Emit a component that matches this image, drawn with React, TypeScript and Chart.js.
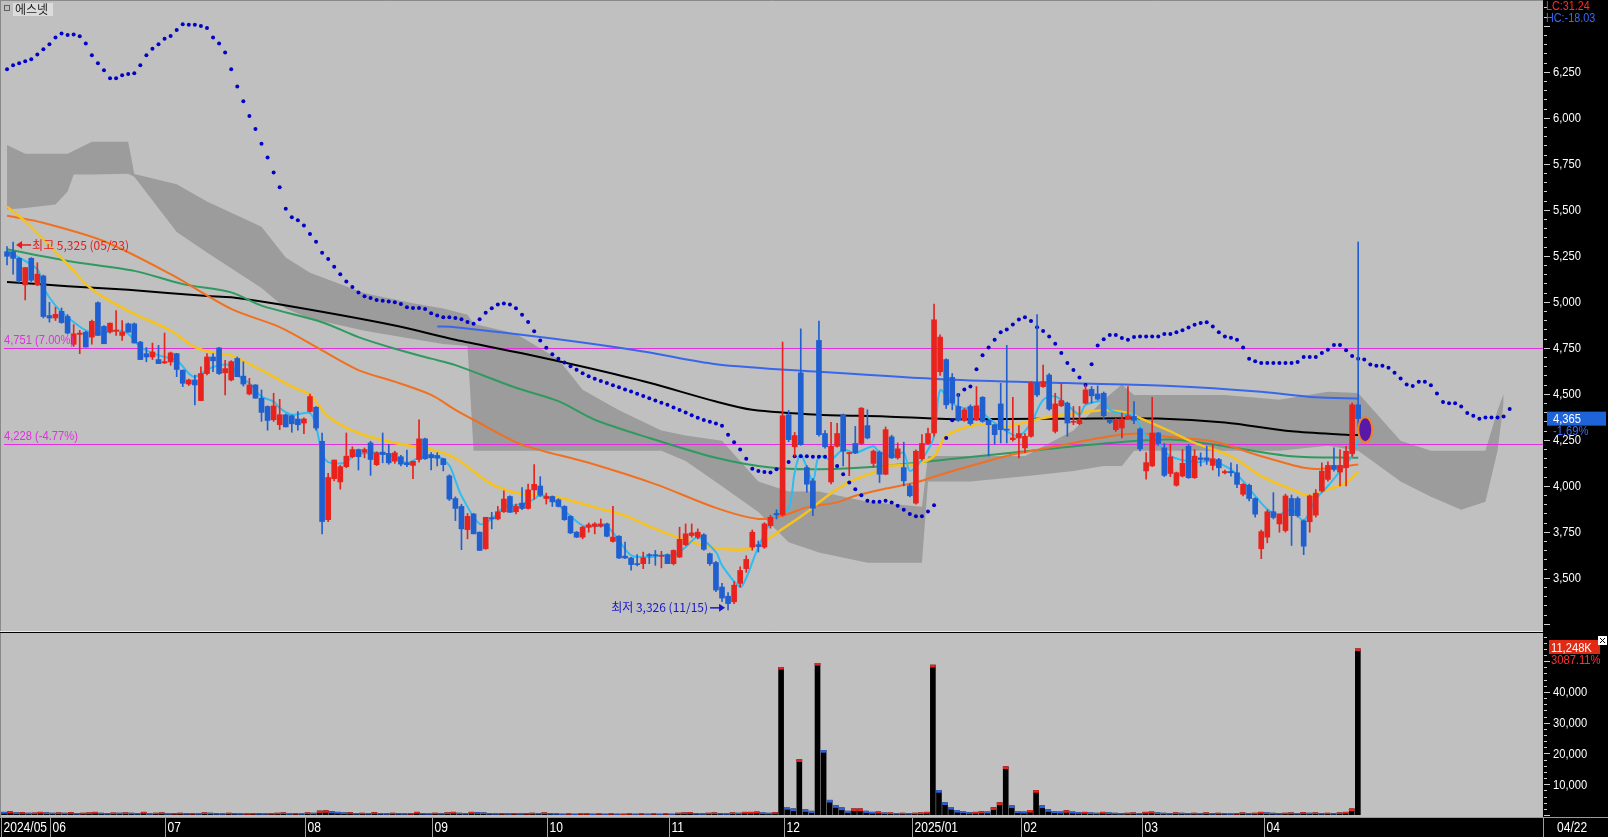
import React, { useEffect, useRef } from "react";
import { Chart, registerables } from "chart.js";

Chart.register(...registerables);

const SLOTS = 254;

const opens = [5272,5272,5236,5092,5236,5092,5140,4925,4912,4948,4920,4769,4823,4835,4808,4995,4866,4836,4840,4817,4880,4880,4781,4718,4700,4686,4668,4673,4718,4628,4553,4575,4463,4610,4700,4749,4614,4575,4692,4596,4499,4548,4476,4431,4359,4332,4386,4381,4363,4341,4404,4427,4242,3816,4039,4021,4104,4158,4197,4183,4233,4115,4183,4176,4134,4158,4125,4111,4143,4255,4170,4165,4147,4054,3931,3888,3762,3847,3748,3658,3827,3820,3859,3942,3859,3906,3877,3978,3999,3931,3942,3924,3888,3834,3748,3721,3775,3780,3781,3793,3698,3726,3618,3608,3575,3577,3626,3626,3617,3626,3577,3613,3680,3730,3721,3734,3631,3583,3450,3400,3370,3470,3550,3667,3680,3667,3784,3850,3842,4386,4212,4614,4099,4027,4790,4284,4021,4215,4386,4175,4230,4230,4327,4122,4183,4063,4266,4152,4099,4000,3906,4147,4230,4287,4620,4686,4589,4431,4356,4431,4359,4481,4356,4332,4445,4308,4251,4260,4206,4269,4560,4539,4602,4296,4435,4449,4345,4338,4449,4524,4499,4503,4356,4305,4314,4363,4377,4309,4081,4108,4287,4206,4067,4003,4053,4215,4044,4152,4152,4111,4143,4071,4078,4071,3954,4003,3931,3658,3721,3859,3793,3757,3931,3931,3810,3805,3841,3972,4035,4111,4075,4098,4175,4440];
const highs = [5300,5325,5240,5186,5240,5212,5145,4997,4970,4966,4930,4876,4845,4840,4901,5000,4870,4884,4952,4898,4885,4885,4785,4751,4776,4763,4830,4727,4720,4630,4580,4602,4646,4718,4718,4752,4682,4680,4700,4674,4584,4550,4521,4435,4503,4470,4390,4385,4404,4370,4499,4430,4287,4068,4140,4111,4287,4212,4200,4206,4242,4185,4287,4224,4188,4165,4194,4135,4359,4260,4180,4180,4150,4060,3940,3900,3850,3850,3750,3829,3856,3888,3973,3945,3901,3990,4009,4116,4050,3960,3945,3930,3892,3838,3752,3780,3798,3800,3820,3798,3888,3730,3694,3612,3626,3640,3632,3649,3644,3630,3652,3775,3793,3793,3766,3740,3635,3590,3470,3420,3480,3560,3620,3760,3700,3800,3840,3870,4781,4410,4290,4853,4110,4040,4895,4300,4345,4340,4390,4181,4323,4425,4413,4195,4190,4320,4275,4233,4237,4010,4195,4278,4314,4988,4820,4690,4610,4500,4420,4440,4539,4485,4360,4335,4557,4763,4481,4327,4284,4565,4930,4656,4610,4503,4557,4455,4431,4431,4548,4539,4543,4510,4360,4365,4395,4539,4458,4315,4180,4481,4290,4230,4225,4075,4197,4225,4197,4179,4215,4224,4150,4085,4125,4116,4012,4010,3935,3760,3870,3963,3846,3955,3950,3940,3815,3950,3980,4125,4130,4206,4197,4215,4450,5325];
const lows = [5200,5150,5105,5010,5110,5087,4912,4889,4898,4883,4825,4758,4718,4754,4769,4817,4772,4830,4817,4790,4835,4776,4686,4674,4686,4664,4664,4655,4593,4539,4545,4440,4463,4602,4620,4605,4494,4570,4593,4542,4494,4476,4350,4302,4350,4305,4320,4291,4302,4284,4400,4302,3739,3805,4027,3982,4098,4152,4086,4152,4057,4110,4125,4117,4122,4108,4104,4039,4129,4143,4086,4108,4081,3920,3811,3653,3712,3739,3649,3655,3766,3815,3855,3856,3847,3870,3873,3928,3942,3901,3888,3885,3812,3740,3718,3712,3748,3739,3775,3722,3694,3604,3604,3541,3565,3550,3577,3568,3554,3577,3570,3610,3675,3720,3712,3650,3568,3425,3370,3326,3360,3450,3530,3650,3640,3660,3770,3820,3835,4240,4160,4220,3965,3838,4270,4205,4010,4210,4108,4055,4175,4225,4255,4100,4018,4060,4148,4145,4000,3940,3900,4140,4225,4270,4600,4420,4413,4350,4350,4330,4355,4345,4162,4225,4233,4233,4242,4152,4180,4265,4485,4535,4410,4287,4430,4269,4332,4332,4445,4450,4465,4360,4338,4296,4260,4360,4338,4189,4036,4105,4220,4050,4050,3998,4048,4040,4040,4107,4116,4086,4053,4065,4053,3990,3945,3918,3830,3604,3690,3820,3748,3748,3676,3830,3626,3748,3830,3965,4025,4080,4000,4000,4160,4320];
const closes = [5247,5236,5114,5186,5117,5150,4920,4912,4932,4887,4830,4826,4830,4754,4894,4817,4772,4884,4846,4835,4835,4776,4686,4700,4727,4664,4675,4722,4632,4557,4575,4548,4610,4700,4679,4610,4637,4675,4593,4553,4548,4476,4399,4355,4434,4386,4320,4337,4332,4363,4485,4314,3806,4045,4140,4104,4161,4197,4158,4197,4143,4179,4170,4125,4179,4118,4115,4133,4255,4147,4152,4150,4115,3928,3877,3766,3834,3739,3649,3829,3820,3859,3928,3856,3888,3877,3978,4008,3949,3942,3913,3888,3816,3744,3721,3775,3788,3793,3793,3726,3721,3608,3608,3572,3572,3608,3620,3620,3622,3577,3649,3709,3739,3744,3748,3655,3577,3434,3390,3360,3460,3540,3600,3748,3670,3793,3829,3842,4381,4251,4273,4224,4009,3878,4278,4212,4215,4284,4188,4181,4179,4422,4260,4188,4063,4305,4152,4201,4027,3946,4188,4230,4284,4902,4808,4440,4449,4356,4413,4338,4435,4350,4332,4278,4305,4302,4260,4284,4269,4560,4494,4566,4417,4445,4463,4341,4350,4359,4521,4489,4471,4381,4345,4356,4363,4381,4356,4201,4126,4287,4230,4057,4157,4071,4122,4044,4161,4143,4139,4147,4098,4078,4071,4008,4008,3931,3846,3751,3859,3828,3846,3945,3838,3838,3672,3945,3960,4080,4111,4089,4111,4188,4440,4365];

const volumes = [900,1100,700,800,600,650,900,700,600,700,600,800,500,600,700,900,600,500,650,600,700,600,500,900,400,600,700,400,500,600,450,500,400,700,600,450,400,600,500,400,400,500,450,400,500,600,700,400,500,400,700,600,1300,1400,1100,900,700,800,500,600,500,800,500,400,600,500,400,500,900,500,400,600,500,700,900,600,500,900,800,700,500,400,500,400,500,400,500,600,500,700,500,400,300,400,300,400,400,300,400,300,400,300,300,400,300,400,300,400,300,400,300,600,700,800,500,400,600,700,500,400,700,600,900,900,1000,700,600,800,48000,2500,2000,18000,1800,1240,49300,21000,4800,3090,2340,1240,2010,2010,1240,912,1020,690,700,500,600,500,600,700,900,48700,8000,4000,2500,1500,1200,800,900,1100,1000,2400,4000,15700,3000,1200,1000,1500,8000,3000,1800,1200,1000,1400,1000,800,900,700,600,900,700,600,500,600,700,500,900,1000,700,600,500,700,600,500,600,500,700,500,600,500,400,500,700,500,600,900,700,600,500,600,700,500,800,600,700,500,600,500,700,900,2000,54000];

const monthTicks: [number, string][] = [[0,"2024/05"],[8,"06"],[27,"07"],[50,"08"],[71,"09"],[90,"10"],[110,"11"],[129,"12"],[150,"2025/01"],[168,"02"],[188,"03"],[208,"04"]];
const lastDateLabel = "04/22";
const priceTickLabels = [3500, 3750, 4000, 4250, 4500, 4750, 5000, 5250, 5500, 5750, 6000, 6250];
const volumeTickLabels = [10000, 20000, 30000, 40000];

const maBlackPts: [number, number][] = [[0,5108],[10,5085],[20,5065],[33,5031],[37,5024],[47,4974],[64,4871],[74,4794],[85,4720],[96,4640],[106,4560],[117,4458],[123,4413],[134,4386],[145,4377],[155,4363],[165,4363],[175,4365],[190,4366],[201,4344],[212,4296],[221,4278],[223,4276]];
const maBluePts: [number, number][] = [[71,4866],[74,4862],[90,4800],[105,4730],[117,4661],[134,4620],[155,4578],[175,4558],[192,4542],[207,4511],[216,4481],[223,4475]];
const maGreenPts: [number, number][] = [[0,5285],[10,5222],[21,5168],[29,5096],[37,5051],[42,4979],[52,4889],[58,4808],[64,4745],[70,4691],[74,4656],[84,4533],[91,4460],[97,4359],[106,4260],[117,4152],[126,4099],[134,4090],[145,4108],[155,4143],[171,4197],[182,4233],[192,4251],[201,4215],[212,4161],[223,4152]];
const maOrangePts: [number, number][] = [[0,5467],[5,5437],[16,5329],[27,5150],[37,4961],[45,4862],[52,4736],[58,4629],[64,4566],[70,4494],[74,4413],[77,4359],[85,4224],[96,4125],[107,4009],[117,3880],[124,3820],[128,3838],[132,3883],[137,3910],[140,3946],[145,3985],[150,4018],[155,4070],[165,4162],[171,4201],[182,4269],[187,4284],[192,4265],[199,4242],[207,4161],[214,4098],[217,4093],[223,4116]];
const maYellowPts: [number, number][] = [[0,5517],[3,5437],[10,5204],[13,5096],[16,5024],[21,4934],[27,4844],[31,4754],[35,4718],[37,4709],[42,4629],[47,4539],[50,4494],[53,4377],[58,4287],[64,4233],[70,4197],[74,4150],[80,4009],[85,3955],[91,3937],[97,3883],[102,3838],[107,3766],[113,3694],[118,3658],[123,3662],[128,3766],[132,3856],[134,3910],[137,3982],[140,4036],[143,4072],[145,4108],[150,4117],[153,4161],[155,4270],[160,4332],[165,4323],[171,4368],[176,4392],[181,4410],[185,4395],[187,4368],[192,4296],[196,4233],[202,4161],[207,4053],[212,3981],[215,3945],[218,3981],[221,4017],[223,4080]];
const maCyanPts: [number, number][] = [[0,5275],[5,5177],[6,5078],[8,4979],[10,4916],[13,4844],[15,4826],[18,4844],[20,4826],[22,4754],[25,4709],[28,4682],[30,4610],[31,4592],[34,4646],[37,4655],[38,4602],[40,4557],[42,4485],[44,4458],[45,4422],[47,4386],[50,4395],[51,4323],[52,4179],[53,4129],[56,4125],[57,4161],[60,4179],[63,4170],[66,4125],[68,4152],[71,4161],[73,4110],[74,4030],[75,3946],[78,3793],[80,3820],[82,3883],[85,3901],[87,3928],[88,3949],[90,3928],[92,3865],[95,3784],[97,3780],[99,3780],[101,3703],[103,3622],[106,3613],[108,3622],[110,3622],[112,3667],[114,3721],[117,3640],[118,3568],[121,3450],[122,3500],[124,3667],[127,3856],[129,3874],[130,4072],[131,4170],[133,4027],[134,4161],[136,4143],[138,4197],[140,4179],[143,4215],[144,4179],[146,4161],[148,4179],[149,4081],[151,4143],[153,4269],[154,4520],[156,4449],[158,4422],[160,4422],[162,4368],[165,4296],[167,4269],[169,4341],[171,4467],[173,4485],[175,4440],[177,4386],[178,4440],[181,4458],[182,4413],[184,4392],[186,4381],[188,4269],[190,4230],[192,4161],[196,4129],[199,4134],[202,4089],[204,4026],[206,3945],[208,3873],[210,3846],[212,3873],[214,3811],[216,3927],[218,3999],[220,4080],[222,4161],[223,4251]];

const cloudIdx = [0,3,8,10,11,14,20,21,28,33,42,46,50,59,67,72,76,77,84,91,95,101,108,112,118,124,129,134,142,151,152,159,168,176,181,184,186,193,201,210,218,223,230,235,240,244,246,247];
const cloudUpper = [5852,5804,5804,5804,5820,5870,5869,5694,5639,5545,5407,5241,5158,5047,4992,4964,4930,4881,4826,4688,4522,4411,4301,4273,4245,4024,3969,3969,3914,3886,4162,4162,4162,4301,4467,4550,4494,4494,4494,4467,4511,4505,4245,4190,4190,4190,4411,4500];
const cloudLower = [5502,5510,5529,5599,5691,5691,5696,5680,5379,5268,5075,4964,4909,4843,4798,4771,4760,4190,4190,4190,4190,4190,4190,4135,3997,3858,3693,3637,3582,3582,4024,4024,4052,4080,4107,4107,4190,4190,4190,4190,4218,4190,4024,3941,3870,3914,4190,4450];

const dotValues: (number | null)[] = [6263,6285,6296,6307,6318,6344,6372,6399,6436,6458,6450,6452,6443,6403,6339,6296,6258,6215,6215,6231,6238,6242,6285,6339,6375,6399,6429,6444,6477,6508,6505,6505,6499,6487,6436,6403,6354,6263,6170,6089,6009,5939,5859,5784,5703,5622,5505,5459,5443,5414,5368,5326,5266,5232,5190,5150,5110,5080,5050,5030,5020,5010,5006,5002,4997,4988,4970,4966,4966,4961,4938,4925,4916,4916,4912,4905,4890,4880,4905,4940,4965,4985,4990,4985,4965,4930,4890,4840,4790,4750,4715,4690,4670,4650,4630,4612,4596,4582,4570,4558,4546,4535,4524,4512,4500,4488,4476,4464,4452,4440,4426,4412,4398,4384,4370,4358,4348,4338,4327,4278,4237,4197,4147,4093,4081,4075,4072,4090,4110,4129,4161,4161,4161,4158,4158,4158,4135,4108,4063,4018,3982,3949,3919,3913,3913,3919,3910,3892,3870,3847,3834,3834,3860,3895,null,4260,4356,4494,4524,4539,4634,4710,4751,4794,4835,4850,4877,4904,4916,4895,4862,4841,4812,4772,4722,4668,4629,4589,4548,4661,4763,4796,4819,4819,4803,4794,4808,4812,4812,4812,4812,4825,4825,4835,4845,4860,4875,4885,4889,4866,4835,4812,4804,4794,4751,4691,4677,4668,4668,4668,4668,4668,4668,4673,4700,4700,4700,4722,4740,4765,4765,4736,4706,4691,4686,4659,4652,4652,4641,4614,4583,4551,4542,4565,4565,4547,4502,4456,4449,4449,4431,4395,4381,4364,4371,4371,4371,4377,4418];

const refLevels = [
  { value: 4751, text: "4,751 (7.00%)" },
  { value: 4228, text: "4,228 (-4.77%)" },
];
const highMark = { index: 1, value: 5325, text: "최고 5,325 (05/23)" };
const lowMark = { index: 119, value: 3326, text: "최저 3,326 (11/15)" };
const lastPrice = 4365;
const lastChangeText = "-1.69%";
const markerPoint = { index: 224, value: 4305 };
const lastVolumeText = "11,248K";
const lastVolumeChange = "3087.11%";
const stockName = "에스넷";
const lcText = "LC:31.24";
const hcText = "HC:-18.03";

const PRICE_MIN = 3222;
const PRICE_MAX = 6618;
const VOL_MAX = 58170;

const RED = "#e8221c";
const BLUE = "#1f5fd0";
const BG = "#c0c0c0";
const AXIS_W = 65;
const SANS = '"Liberation Sans", Arimo, sans-serif';
const KR = '"Noto Sans CJK KR", "Noto Sans", sans-serif';

function expand(pts: [number, number][]) {
  const arr: (number | null)[] = new Array(SLOTS).fill(null);
  pts.forEach(([i, v]) => (arr[i] = v));
  return arr;
}
function expandIdx(idx: number[], vals: number[]) {
  const arr: (number | null)[] = new Array(SLOTS).fill(null);
  idx.forEach((i, k) => (arr[i] = vals[k]));
  return arr;
}
const fmt = (v: number) => v.toLocaleString("en-US");

function narrow(ctx: CanvasRenderingContext2D, text: string, x: number, y: number, sx = 0.88, align: CanvasTextAlign = "left") {
  ctx.save();
  ctx.translate(x, y);
  ctx.scale(sx, 1);
  ctx.textAlign = align;
  ctx.fillText(text, 0, 0);
  ctx.restore();
}

export default function App() {
  const priceRef = useRef<HTMLCanvasElement>(null);
  const volRef = useRef<HTMLCanvasElement>(null);

  useEffect(() => {
    document.body.style.margin = "0";
    const labels = Array.from({ length: SLOTS }, (_, i) => String(i));
    const candleColors = opens.map((o, i) => (closes[i] >= o ? RED : BLUE));
    const bodies = opens.map((o, i) => [Math.min(o, closes[i]), Math.max(o, closes[i])]);
    const wicks = lows.map((l, i) => [l, highs[i]]);

    const lineDs = (label: string, pts: [number, number][], color: string, width: number, order: number) => ({
      type: "line" as const,
      label,
      data: expand(pts),
      borderColor: color,
      borderWidth: width,
      pointRadius: 0,
      spanGaps: true,
      tension: 0.3,
      order,
    });

    const bgPlugin = (plotBottom: number) => ({
      id: "bg",
      beforeDraw(chart: any) {
        const { ctx, width, height, chartArea } = chart;
        ctx.save();
        ctx.fillStyle = "#000";
        ctx.fillRect(0, 0, width, height);
        ctx.fillStyle = BG;
        ctx.fillRect(0, 0, chartArea.right, plotBottom);
        ctx.strokeStyle = "#8a8a8a";
        ctx.lineWidth = 1;
        ctx.beginPath();
        ctx.moveTo(0.5, 0);
        ctx.lineTo(0.5, plotBottom);
        ctx.stroke();
        ctx.restore();
      },
    });

    const axisPlugin = (step: number, major: number, from: number, labelVals: number[]) => ({
      id: "axisTicks",
      afterDraw(chart: any) {
        const { ctx, chartArea } = chart;
        const ys = chart.scales.y;
        ctx.save();
        ctx.strokeStyle = "#d0d0d0";
        ctx.lineWidth = 1;
        for (let v = from; v <= ys.max; v += step) {
          const y = Math.round(ys.getPixelForValue(v)) + 0.5;
          if (y < chartArea.top || y > chartArea.bottom + 1) continue;
          const len = v % major === 0 ? 6 : 3;
          ctx.beginPath();
          ctx.moveTo(chartArea.right + 1, y);
          ctx.lineTo(chartArea.right + 1 + len, y);
          ctx.stroke();
        }
        ctx.fillStyle = "#ffffff";
        ctx.font = `13px ${SANS}`;
        ctx.textBaseline = "middle";
        labelVals.forEach((v) => {
          const y = ys.getPixelForValue(v);
          narrow(ctx, fmt(v), chartArea.right + 10, y + 1, 0.86);
        });
        ctx.restore();
      },
    });

    const refLinePlugin = {
      id: "refLines",
      afterDatasetDraw(chart: any, args: any) {
        if (chart.data.datasets[args.index].label !== "cloudL") return;
        const { ctx, chartArea } = chart;
        const ys = chart.scales.y;
        ctx.save();
        ctx.strokeStyle = "#e030e0";
        ctx.lineWidth = 1;
        refLevels.forEach((r) => {
          const y = Math.round(ys.getPixelForValue(r.value)) + 0.5;
          ctx.beginPath();
          ctx.moveTo(chartArea.left, y);
          ctx.lineTo(chartArea.right, y);
          ctx.stroke();
        });
        ctx.restore();
      },
    };

    const annoPlugin = {
      id: "anno",
      afterDatasetsDraw(chart: any) {
        const { ctx } = chart;
        const xs = chart.scales.x;
        const ys = chart.scales.y;
        ctx.save();
        ctx.font = `13px ${SANS}`;
        ctx.fillStyle = "#e030e0";
        ctx.textBaseline = "bottom";
        refLevels.forEach((r) => {
          const y = ys.getPixelForValue(r.value);
          narrow(ctx, r.text, 4, y - 1, 0.86);
        });
        // high mark
        const hx = xs.getPixelForValue(highMark.index) + 3;
        const hy = ys.getPixelForValue(highMark.value) + 3;
        ctx.strokeStyle = "#e81818";
        ctx.fillStyle = "#e81818";
        ctx.lineWidth = 1.5;
        ctx.beginPath();
        ctx.moveTo(hx + 2, hy);
        ctx.lineTo(hx + 15, hy);
        ctx.stroke();
        ctx.beginPath();
        ctx.moveTo(hx, hy);
        ctx.lineTo(hx + 6, hy - 4);
        ctx.lineTo(hx + 6, hy + 4);
        ctx.closePath();
        ctx.fill();
        ctx.font = `12px ${KR}`;
        ctx.textBaseline = "middle";
        ctx.textAlign = "left";
        ctx.fillText(highMark.text, hx + 16, hy);
        // low mark
        const lx = xs.getPixelForValue(lowMark.index) - 3;
        const ly = ys.getPixelForValue(lowMark.value) - 2;
        ctx.strokeStyle = "#1818c8";
        ctx.fillStyle = "#1818c8";
        ctx.beginPath();
        ctx.moveTo(lx - 15, ly);
        ctx.lineTo(lx - 2, ly);
        ctx.stroke();
        ctx.beginPath();
        ctx.moveTo(lx, ly);
        ctx.lineTo(lx - 6, ly - 4);
        ctx.lineTo(lx - 6, ly + 4);
        ctx.closePath();
        ctx.fill();
        ctx.textAlign = "right";
        ctx.fillText(lowMark.text, lx - 17, ly);
        // marker ellipse
        const mx = xs.getPixelForValue(markerPoint.index);
        const my = ys.getPixelForValue(markerPoint.value);
        ctx.beginPath();
        ctx.ellipse(mx + 1, my, 7, 12.5, 0, 0, Math.PI * 2);
        ctx.fillStyle = "#5a18a8";
        ctx.fill();
        ctx.lineWidth = 2;
        ctx.strokeStyle = "#f08028";
        ctx.stroke();
        ctx.restore();
      },
      afterDraw(chart: any) {
        const { ctx, chartArea, height } = chart;
        const ys = chart.scales.y;
        ctx.save();
        ctx.strokeStyle = "#e8e8e8";
        ctx.lineWidth = 1;
        ctx.beginPath();
        ctx.moveTo(0, height - 1.5);
        ctx.lineTo(chartArea.right, height - 1.5);
        ctx.stroke();
        ctx.strokeStyle = "#8a8a8a";
        ctx.beginPath();
        ctx.moveTo(0, 0.5);
        ctx.lineTo(chartArea.right, 0.5);
        ctx.stroke();
        // title
        ctx.fillStyle = "#dcdcdc";
        ctx.fillRect(13, 3, 40, 13);
        ctx.strokeStyle = "#606060";
        ctx.strokeRect(4.5, 5.5, 5, 5);
        ctx.fillStyle = "#202020";
        ctx.font = `12px ${KR}`;
        ctx.textBaseline = "middle";
        ctx.textAlign = "left";
        ctx.fillText(stockName, 15, 9.5);
        // LC / HC
        ctx.font = `12px ${SANS}`;
        ctx.fillStyle = "#ff2a2a";
        narrow(ctx, lcText, chartArea.right + 3, 7, 0.9);
        ctx.fillStyle = "#3a6aff";
        narrow(ctx, hcText, chartArea.right + 3, 19, 0.9);
        // last price box
        const py = ys.getPixelForValue(lastPrice);
        ctx.fillStyle = "#1e64d8";
        ctx.fillRect(chartArea.right + 4, py - 7, 59, 14);
        ctx.fillStyle = "#ffffff";
        ctx.font = `13px ${SANS}`;
        narrow(ctx, fmt(lastPrice), chartArea.right + 10, py + 1, 0.86);
        ctx.fillStyle = "#3a6aff";
        narrow(ctx, lastChangeText, chartArea.right + 10, py + 13, 0.86);
        ctx.restore();
      },
    };

    const priceChart = new Chart(priceRef.current!, {
      type: "bar",
      data: {
        labels,
        datasets: [
          {
            type: "line",
            label: "cloudU",
            data: expandIdx(cloudIdx, cloudUpper),
            borderWidth: 0,
            borderColor: "rgba(0,0,0,0)",
            pointRadius: 0,
            spanGaps: true,
            fill: "+1",
            backgroundColor: "#9c9c9c",
            order: 101,
          } as any,
          {
            type: "line",
            label: "cloudL",
            data: expandIdx(cloudIdx, cloudLower),
            borderWidth: 0,
            borderColor: "rgba(0,0,0,0)",
            pointRadius: 0,
            spanGaps: true,
            fill: false,
            order: 100,
          } as any,
          lineDs("black", maBlackPts, "#000000", 2, 60),
          lineDs("blue", maBluePts, "#3a66ea", 2, 59),
          lineDs("green", maGreenPts, "#2f9a60", 2, 58),
          lineDs("orange", maOrangePts, "#f07020", 2, 57),
          lineDs("yellow", maYellowPts, "#f6c21c", 2.5, 56),
          lineDs("cyan", maCyanPts, "#2ebcf2", 2, 55),
          {
            type: "line",
            label: "dots",
            data: dotValues,
            showLine: false,
            pointRadius: 2,
            pointBorderWidth: 0,
            pointBackgroundColor: "#0000c8",
            order: 40,
          } as any,
          {
            type: "bar",
            label: "wick",
            data: wicks as any,
            backgroundColor: candleColors,
            barThickness: 1,
            grouped: false,
            order: 20,
          } as any,
          {
            type: "bar",
            label: "body",
            data: bodies as any,
            backgroundColor: candleColors,
            barThickness: 5,
            minBarLength: 1,
            grouped: false,
            order: 10,
          } as any,
        ],
      },
      options: {
        animation: false,
        responsive: true,
        maintainAspectRatio: false,
        events: [],
        layout: { padding: { left: 1, top: 1, right: 0, bottom: 2 } },
        plugins: { legend: { display: false }, tooltip: { enabled: false } },
        scales: {
          x: { type: "category", display: false, offset: true, grid: { display: false } },
          y: {
            position: "right",
            min: PRICE_MIN,
            max: PRICE_MAX,
            grid: { display: false, drawTicks: false },
            border: { display: false },
            ticks: { display: false },
            afterFit: (s: any) => {
              s.width = AXIS_W;
            },
          },
        },
      },
      plugins: [bgPlugin(632), axisPlugin(50, 250, 3250, priceTickLabels), refLinePlugin, annoPlugin],
    });

    const volCaps = volumes.map((v) => [Math.max(0, v - Math.min(650, v * 0.4)), v]);
    const capColors = volumes.map((v, i) => (i > 0 && v >= volumes[i - 1] ? RED : "#3060d8"));

    const dateAxisPlugin = {
      id: "dateAxis",
      afterDraw(chart: any) {
        const { ctx, chartArea, width, height } = chart;
        const xs = chart.scales.x;
        const slotW = (chartArea.right - chartArea.left) / SLOTS;
        const top = 185;
        ctx.save();
        ctx.fillStyle = "#000";
        ctx.fillRect(0, top, width, height - top);
        ctx.strokeStyle = "#9a9a9a";
        ctx.lineWidth = 1;
        ctx.beginPath();
        ctx.moveTo(0, top - 0.5);
        ctx.lineTo(width, top - 0.5);
        ctx.stroke();
        ctx.font = `14px ${SANS}`;
        ctx.fillStyle = "#ffffff";
        ctx.textBaseline = "middle";
        monthTicks.forEach(([i, t]) => {
          const x = Math.round(xs.getPixelForValue(i) - slotW / 2) + 0.5;
          ctx.strokeStyle = "#a0a0a0";
          ctx.beginPath();
          ctx.moveTo(x, top);
          ctx.lineTo(x, height);
          ctx.stroke();
          narrow(ctx, t, x + 2, top + 10, 0.86);
        });
        const ax = chartArea.right + 0.5;
        ctx.beginPath();
        ctx.moveTo(ax, top);
        ctx.lineTo(ax, height);
        ctx.stroke();
        narrow(ctx, lastDateLabel, chartArea.right + 14, top + 10, 0.86);
        // volume label
        ctx.fillStyle = "#e02a14";
        ctx.fillRect(chartArea.right + 6, 7, 51, 14);
        ctx.fillStyle = "#ffffff";
        ctx.font = `13px ${SANS}`;
        narrow(ctx, lastVolumeText, chartArea.right + 8, 15, 0.86);
        ctx.fillStyle = "#ff3030";
        narrow(ctx, lastVolumeChange, chartArea.right + 8, 27, 0.86);
        ctx.fillStyle = "#ffffff";
        ctx.fillRect(chartArea.right + 55, 3, 9, 9);
        ctx.strokeStyle = "#000";
        ctx.beginPath();
        ctx.moveTo(chartArea.right + 57, 5);
        ctx.lineTo(chartArea.right + 62, 10);
        ctx.moveTo(chartArea.right + 62, 5);
        ctx.lineTo(chartArea.right + 57, 10);
        ctx.stroke();
        ctx.restore();
      },
    };

    const volChart = new Chart(volRef.current!, {
      type: "bar",
      data: {
        labels,
        datasets: [
          {
            label: "vol",
            data: volumes,
            backgroundColor: "#000000",
            barThickness: 5,
            grouped: false,
            order: 2,
          } as any,
          {
            label: "cap",
            data: volCaps as any,
            backgroundColor: capColors,
            barThickness: 5,
            grouped: false,
            order: 1,
          } as any,
        ],
      },
      options: {
        animation: false,
        responsive: true,
        maintainAspectRatio: false,
        events: [],
        layout: { padding: { left: 1, top: 3, right: 0, bottom: 22 } },
        plugins: { legend: { display: false }, tooltip: { enabled: false } },
        scales: {
          x: { type: "category", display: false, offset: true, grid: { display: false } },
          y: {
            position: "right",
            min: 0,
            max: VOL_MAX,
            grid: { display: false, drawTicks: false },
            border: { display: false },
            ticks: { display: false },
            afterFit: (s: any) => {
              s.width = AXIS_W;
            },
          },
        },
      },
      plugins: [bgPlugin(184), axisPlugin(2000, 10000, 0, volumeTickLabels), dateAxisPlugin],
    });

    return () => {
      priceChart.destroy();
      volChart.destroy();
    };
  }, []);

  return (
    <div style={{ position: "fixed", left: 0, top: 0, width: 1608, height: 837, background: "#000" }}>
      <div style={{ position: "absolute", left: 0, top: 0, width: 1608, height: 633 }}>
        <canvas ref={priceRef} />
      </div>
      <div style={{ position: "absolute", left: 0, top: 633, width: 1608, height: 204 }}>
        <canvas ref={volRef} />
      </div>
    </div>
  );
}
